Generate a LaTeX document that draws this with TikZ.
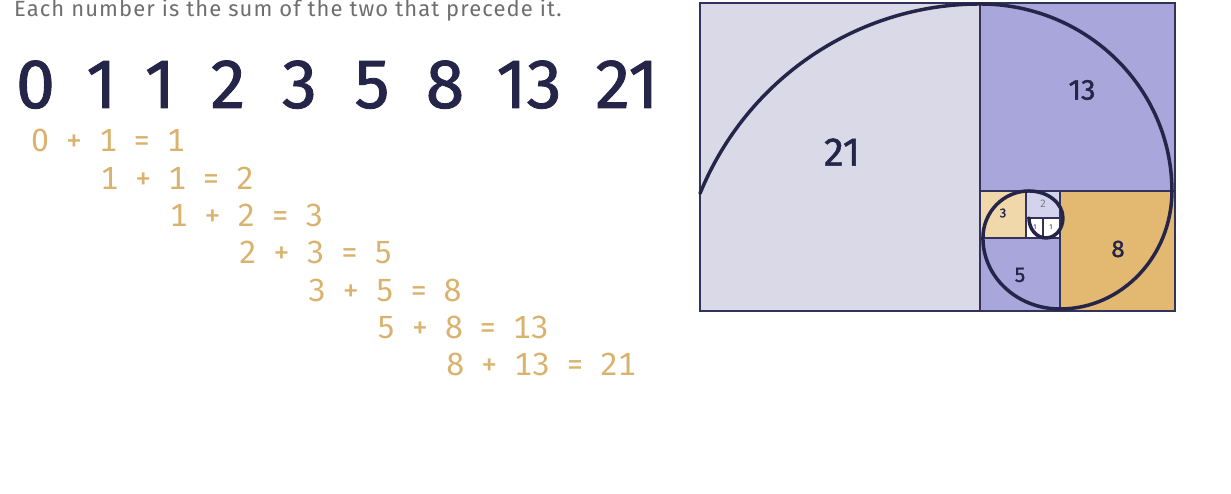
\documentclass[tikz,border=0pt]{standalone}
\usepackage{fontspec}
\setmainfont{Fira Sans}
\newfontfamily\medfont[FakeBold=1.2]{Fira Sans}
\newfontfamily\sumfont[Numbers=Monospaced]{Fira Sans}
\usepackage{tikz}

\definecolor{navy}{HTML}{25254A}
\definecolor{edgenavy}{HTML}{33325A}
\definecolor{gold}{HTML}{D9B36E}
\definecolor{capgray}{HTML}{6E6E6E}
\definecolor{sqpale}{HTML}{DAD9E7}
\definecolor{sqlav}{HTML}{A8A6DA}
\definecolor{sqgold}{HTML}{E3B870}
\definecolor{sqtan}{HTML}{F1D8AB}
\definecolor{sqlight}{HTML}{D4D3EE}

\newcommand{\sumgap}{\hspace{0.5em}}

\tikzset{
	fibnum/.style={inner sep=0pt, text=navy, anchor=base, font=\fontsize{70}{70}\medfont},
	sumrow/.style={inner sep=0pt, text=gold, anchor=base west, font=\fontsize{32}{32}\sumfont},
	sqlabel/.style={inner sep=0pt, text=navy},
	spiral/.style={draw=navy, line width=3.5pt, line cap=round}
}

\begin{document}
\begin{tikzpicture}[x=1pt, y=1pt]
			\useasboundingbox (0,0) rectangle (1231,493);
			% caption
			\node[anchor=base west, inner sep=0pt, text=capgray, font=\fontsize{22}{22}\selectfont\addfontfeatures{LetterSpace=5}] (caption) at (14,476) {Each number is the sum of the two that precede it.};
			% sequence
			\foreach \x/\n [count=\i] in {35.5/0, 101.5/1, 160/1, 228/2, 299.5/3, 372/5, 445/8, 529/13, 627/21}
				\node[fibnum] (num\i) at (\x,385) {\n};
			% sums
			\foreach \a/\b/\c [count=\i from 0] in {0/1/1, 1/1/2, 1/2/3, 2/3/5, 3/5/8, 5/8/13, 8/13/21}
				\node[sumrow] (sum\i) at ({31+69.2*\i},{341-37.3*\i}) {\a\sumgap+\sumgap\b\sumgap=\sumgap\c};
			\begin{scope}[draw=edgenavy, line width=1.5pt] % squares
				\filldraw[fill=sqpale] (700,182) rectangle (980,490);
				\filldraw[fill=sqlav] (980,302) rectangle (1175,490);
				\filldraw[fill=sqgold] (1060,182) rectangle (1175,302);
				\filldraw[fill=sqlav] (980,182) rectangle (1060,255);
				\filldraw[fill=sqtan] (980,255) rectangle (1026,302);
				\filldraw[fill=sqlight] (1026,275) rectangle (1060,302);
				\filldraw[fill=white] (1026,255) rectangle (1043,275);
				\filldraw[fill=white] (1043,255) rectangle (1060,275);
			\end{scope}
			% spiral
			\path[spiral] (700,299.5)
				arc[start angle=157.5, end angle=90, x radius=303, y radius=307]
				arc[start angle=90, end angle=0, x radius=192, y radius=187]
				arc[start angle=0, end angle=-90, x radius=112, y radius=118]
				arc[start angle=-90, end angle=-180, x radius=77, y radius=71]
				arc[start angle=180, end angle=90, x radius=46, y radius=47]
				arc[start angle=90, end angle=0, x radius=34, y radius=27]
				arc[start angle=0, end angle=-90, x radius=17, y radius=20]
				arc[start angle=-90, end angle=-180, x radius=17, y radius=20];
			% labels
			\node[sqlabel, font=\fontsize{40}{40}\medfont] (lab21) at (842,341) {21};
			\node[sqlabel, font=\fontsize{29}{29}\medfont] (lab13) at (1082,403) {13};
			\node[sqlabel, font=\fontsize{24}{24}\medfont] (lab8) at (1118,244) {8};
			\node[sqlabel, font=\fontsize{21}{21}\medfont] (lab5) at (1020,218) {5};
			\node[sqlabel, font=\fontsize{13}{13}\medfont] (lab3) at (1003,280) {3};
			\node[sqlabel, text=navy!60, font=\fontsize{11}{11}\selectfont] (lab2) at (1043,289) {2};
			\node[sqlabel, font=\fontsize{7}{7}\selectfont] (lab1a) at (1035,266) {1};
			\node[sqlabel, font=\fontsize{7}{7}\selectfont] (lab1b) at (1051,266) {1};
		\end{tikzpicture}
\end{document}
